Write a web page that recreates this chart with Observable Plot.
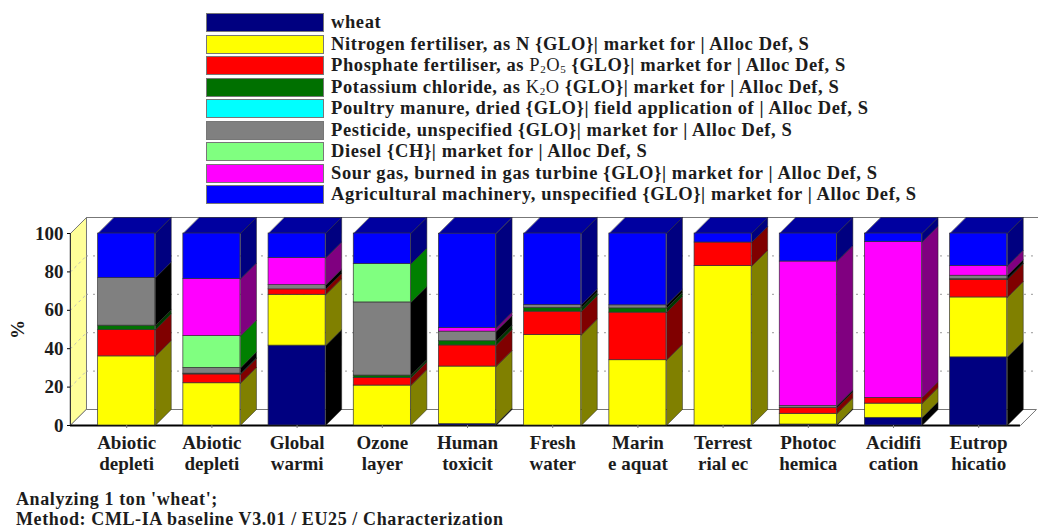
<!DOCTYPE html>
<html>
<head>
<meta charset="utf-8">
<script src="https://cdn.jsdelivr.net/npm/d3@7"></script>
<script src="https://cdn.jsdelivr.net/npm/@observablehq/plot@0.6"></script>
<style>
html,body{margin:0;padding:0;background:#fff;width:1038px;height:530px;overflow:hidden}
body{font-family:"Liberation Serif",serif;font-weight:bold;color:#1c1c1c}
#legend{position:relative;height:210px}
.row{position:absolute;left:0;height:21px;white-space:nowrap}
.sw{position:absolute;left:206px;top:0;width:116px;height:17px;border:1px solid #777}
.tx{position:absolute;left:331px;top:-1px;font-size:18.5px;line-height:21px;letter-spacing:.6px}
.tx span{font-weight:normal}
.tx sub{font-size:11px;line-height:0;vertical-align:-2px}
#chart{height:270px}
#chart svg{display:block}
#caption{position:absolute;left:16px;top:489px;font-size:18px;line-height:20px;letter-spacing:.6px}
</style>
</head>
<body>
<div id="legend"></div>
<div id="chart"></div>
<div id="caption">Analyzing 1 ton 'wheat';<br>Method: CML-IA baseline V3.01 / EU25 / Characterization</div>
<script>
const categories = ["Abiotic\ndepleti","Abiotic\ndepleti","Global\nwarmi","Ozone\nlayer","Human\ntoxicit","Fresh\nwater","Marin\ne aquat","Terrest\nrial ec","Photoc\nhemica","Acidifi\ncation","Eutrop\nhicatio"];
const seriesNames = ["wheat","Nitrogen","Phosphate","Potassium","Poultry","Pesticide","Diesel","Sour gas","Machinery"];
const seriesLabels = [
  "wheat",
  "Nitrogen fertiliser, as N {GLO}| market for | Alloc Def, S",
  "Phosphate fertiliser, as <span>P<sub>2</sub>O<sub>5</sub></span> {GLO}| market for | Alloc Def, S",
  "Potassium chloride, as <span>K<sub>2</sub>O</span> {GLO}| market for | Alloc Def, S",
  "Poultry manure, dried {GLO}| field application of | Alloc Def, S",
  "Pesticide, unspecified {GLO}| market for | Alloc Def, S",
  "Diesel {CH}| market for | Alloc Def, S",
  "Sour gas, burned in gas turbine {GLO}| market for | Alloc Def, S",
  "Agricultural machinery, unspecified {GLO}| market for | Alloc Def, S"
];
const frontColors = ["#000080","#ffff00","#ff0000","#007000","#00ffff","#808080","#80ff80","#ff00ff","#0000ff"];
const sideColors  = ["#000000","#808000","#800000","#003800","#008080","#000000","#008000","#800080","#000080"];
const topColor = "#0000a0";

const wheat     = [0,0,41.6,0,0.7,0,0,0,0.5,4,35.5];
const nitrogen  = [36,22,26.5,20.8,30,47.1,34,83,5.6,7.4,31.2];
const phosphate = [13.8,4.6,2.8,4,11,12.2,24.8,12.3,3.1,3,9.2];
const potassium = [2.2,0.4,0,1.2,2.2,1.9,2.2,0,0,0,0.3];
const poultry   = [0,0,0,0,0,0,0,0,0,0,0];
const pesticide = [24.8,3,2.2,38.1,5,1.5,1.6,0,1,0,1.8];
const diesel    = [0,16.6,0,20,0,0,0,0,0,0,0];
const sourGas   = [0,29.7,14.1,0,1.8,0,0,0,75.2,81.1,5];
const machinery = [23.2,23.7,12.8,15.9,49.2,37.3,37.4,4.7,14.6,4.5,17];
const seriesValues = [wheat,nitrogen,phosphate,potassium,poultry,pesticide,diesel,sourGas,machinery];

const yTicks = [0,20,40,60,80,100];
const gridTicks = [20,40,60,80];
const barHalf = 0.335, depthX = 0.188, depthY = 8.33;
const xStart = -0.66, xEnd = 10.49;

// legend
const legend = document.getElementById("legend");
seriesLabels.forEach((lab,i)=>{
  const r = document.createElement("div");
  r.className = "row";
  r.style.top = (13 + 21.5*i) + "px";
  r.innerHTML = `<div class="sw" style="background:${frontColors[i]}"></div><div class="tx">${lab}</div>`;
  legend.appendChild(r);
});

// segments
const segments = [];
categories.forEach((c,i)=>{
  let base = 0;
  seriesNames.forEach((s,k)=>{
    const v = seriesValues[k][i];
    if (v > 0) { segments.push({i, series:s, y1:base, y2:base+v}); base += v; }
  });
});
const sideVerts = segments.flatMap((d,n)=>{
  const xr = d.i + barHalf, id = "s"+n, key = d.series+" side";
  return [
    {id,key,x:xr,y:d.y1},{id,key,x:xr+depthX,y:d.y1+depthY},
    {id,key,x:xr+depthX,y:d.y2+depthY},{id,key,x:xr,y:d.y2}
  ];
});
const topVerts = categories.flatMap((c,i)=>{
  const id = "t"+i, key = "top", xl = i-barHalf, xr = i+barHalf, y = 100;
  return [
    {id,key,x:xl,y},{id,key,x:xr,y},
    {id,key,x:xr+depthX,y:y+depthY},{id,key,x:xl+depthX,y:y+depthY}
  ];
});
const wall = [{x:xStart,y:0},{x:xStart+depthX,y:depthY},{x:xStart+depthX,y:100+depthY},{x:xStart,y:100}];
const floor = [{x:xStart,y:0},{x:xEnd,y:0},{x:xEnd+depthX,y:depthY},{x:xStart+depthX,y:depthY}];
const wallGrid = gridTicks.flatMap(t=>[{t,x:xStart,y:t},{t,x:xStart+depthX,y:t+depthY}]);

const plot = Plot.plot({
  width:1038, height:270,
  marginLeft:70, marginRight:18, marginTop:23, marginBottom:55,
  x:{domain:[0,10], range:[126.2,978.2]},
  y:{domain:[0,100], range:[215,23]},
  color:{
    domain:[...seriesNames, ...seriesNames.map(s=>s+" side"), "top"],
    range:[...frontColors, ...sideColors, topColor]
  },
  style:{fontFamily:"Liberation Serif",fontWeight:"bold",fontSize:"19px",color:"#1c1c1c",background:"transparent",overflow:"visible"},
  marks:[
    Plot.line(wall,{x:"x",y:"y",curve:"linear-closed",fill:"#ffff99",stroke:"#777",strokeWidth:1}),
    Plot.line(wallGrid,{x:"x",y:"y",z:"t",stroke:"#bbb",strokeWidth:1,strokeDasharray:"2,4"}),
    Plot.line(floor,{x:"x",y:"y",curve:"linear-closed",fill:"#fff",stroke:"#777",strokeWidth:1}),
    Plot.ruleY(gridTicks,{y:d=>d+depthY,x1:xStart+depthX,x2:xEnd+depthX,stroke:"#999",strokeWidth:1,strokeDasharray:"2,5"}),
    Plot.ruleY([100+depthY],{x1:xStart+depthX,x2:xEnd+depthX+0.03,stroke:"#777",strokeWidth:1}),
    Plot.ruleY([0],{x1:xStart,x2:xEnd,stroke:"#000",strokeWidth:2}),
    Plot.ruleX([xStart],{y1:0,y2:100,stroke:"#333",strokeWidth:1}),
    Plot.line(sideVerts,{x:"x",y:"y",z:"id",fill:"key",curve:"linear-closed",stroke:"#222",strokeWidth:0.5}),
    Plot.line(topVerts,{x:"x",y:"y",z:"id",fill:"key",curve:"linear-closed",stroke:"#222",strokeWidth:0.5}),
    Plot.rect(segments,{x1:d=>d.i-barHalf,x2:d=>d.i+barHalf,y1:"y1",y2:"y2",fill:"series",stroke:"#333",strokeWidth:0.7}),
    Plot.axisY({ticks:yTicks,tickSize:3,tickPadding:4,label:"%",labelAnchor:"center",labelArrow:"none",labelOffset:60,stroke:"#000"}),
    Plot.axisX({ticks:categories.map((c,i)=>i),tickFormat:i=>categories[i],tickSize:3,tickPadding:5,label:null,lineHeight:1.12,stroke:"#777"})
  ]
});
document.getElementById("chart").appendChild(plot);
</script>
</body>
</html>
